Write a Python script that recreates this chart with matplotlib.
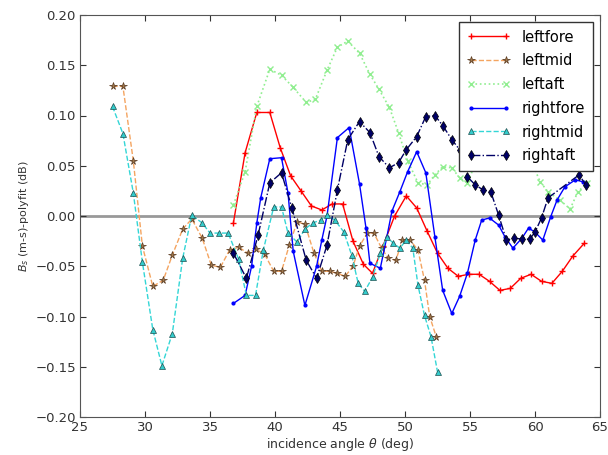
import matplotlib
matplotlib.use('Agg')
import matplotlib.pyplot as plt

# angle (deg) and residual (dB) for each transducer
leftfore_x = [36.8, 37.7, 38.6, 39.6, 40.4, 41.2, 42.0, 42.8, 43.6, 44.4, 45.2, 46.0, 46.8, 47.5,
              48.3, 49.2, 50.1, 50.9, 51.7, 52.5, 53.3, 54.1, 54.9, 55.7, 56.5, 57.3, 58.1, 58.9,
              59.7, 60.5, 61.3, 62.1, 62.9, 63.8]
leftfore_y = [-0.007, 0.063, 0.103, 0.103, 0.068, 0.040, 0.025, 0.010, 0.006, 0.012, 0.012, -0.025,
              -0.048, -0.057, -0.030, 0.000, 0.020, 0.008, -0.015, -0.037, -0.052, -0.060, -0.058,
              -0.058, -0.065, -0.074, -0.072, -0.062, -0.058, -0.065, -0.067, -0.055, -0.040, -0.027]

leftmid_x = [27.5, 28.3, 29.1, 29.8, 30.6, 31.4, 32.1, 32.9, 33.6, 34.4, 35.1, 35.8, 36.5, 37.2,
             37.9, 38.5, 39.2, 39.9, 40.5, 41.1, 41.7, 42.3, 43.0, 43.6, 44.2, 44.8, 45.4, 46.0,
             46.5, 47.1, 47.6, 48.2, 48.7, 49.3, 49.8, 50.4, 51.0, 51.5, 51.9, 52.4]
leftmid_y = [0.129, 0.129, 0.055, -0.030, -0.070, -0.064, -0.039, -0.013, -0.003, -0.022, -0.049,
             -0.051, -0.034, -0.031, -0.037, -0.033, -0.038, -0.055, -0.055, -0.029, -0.006, -0.008,
             -0.037, -0.055, -0.055, -0.057, -0.060, -0.050, -0.030, -0.017, -0.017, -0.032, -0.042,
             -0.044, -0.024, -0.024, -0.034, -0.064, -0.100, -0.120]

leftaft_x = [36.8, 37.7, 38.6, 39.6, 40.5, 41.4, 42.4, 43.1, 44.0, 44.8, 45.6, 46.5, 47.3, 48.0,
             48.8, 49.5, 50.2, 51.0, 51.7, 52.3, 52.9, 53.6, 54.2, 54.8, 55.6, 56.4, 57.2, 58.0,
             58.8, 59.6, 60.4, 61.0, 61.9, 62.7, 63.3, 64.0]
leftaft_y = [0.011, 0.044, 0.109, 0.146, 0.140, 0.128, 0.113, 0.116, 0.145, 0.168, 0.174, 0.162,
             0.141, 0.126, 0.108, 0.083, 0.055, 0.033, 0.031, 0.041, 0.049, 0.048, 0.038, 0.033,
             0.058, 0.066, 0.070, 0.066, 0.062, 0.058, 0.034, 0.024, 0.016, 0.007, 0.024, 0.033]

rightfore_x = [36.8, 37.7, 38.2, 38.6, 38.9, 39.6, 40.5, 41.0, 41.4, 42.3, 43.2, 43.6, 44.0, 44.8,
               45.7, 46.5, 47.0, 47.3, 48.1, 48.6, 49.0, 49.6, 50.2, 50.9, 51.6, 52.3, 52.9, 53.6,
               54.2, 54.8, 55.4, 55.9, 56.5, 57.2, 57.7, 58.3, 59.0, 59.5, 60.0, 60.6, 61.2, 61.7,
               62.3, 63.1, 63.7]
rightfore_y = [-0.087, -0.079, -0.050, -0.007, 0.018, 0.057, 0.058, 0.023, -0.035, -0.089, -0.050,
               -0.024, 0.000, 0.078, 0.088, 0.032, -0.012, -0.047, -0.052, -0.021, 0.005, 0.024,
               0.044, 0.064, 0.043, -0.021, -0.074, -0.097, -0.080, -0.057, -0.024, -0.004, -0.002,
               -0.009, -0.021, -0.032, -0.022, -0.012, -0.016, -0.024, -0.001, 0.016, 0.029, 0.036,
               0.034]

rightmid_x = [27.5, 28.3, 29.1, 29.8, 30.6, 31.3, 32.1, 32.9, 33.6, 34.4, 35.0, 35.7, 36.4, 37.2,
              37.8, 38.5, 39.1, 39.9, 40.5, 41.0, 41.7, 42.3, 42.9, 43.5, 44.0, 44.6, 45.3, 45.9,
              46.4, 46.9, 47.5, 48.1, 48.6, 49.1, 49.6, 50.1, 50.6, 51.0, 51.5, 52.0, 52.5]
rightmid_y = [0.109, 0.082, 0.023, -0.046, -0.113, -0.149, -0.117, -0.042, 0.001, -0.007, -0.017,
              -0.017, -0.017, -0.043, -0.079, -0.079, -0.034, 0.009, 0.009, -0.017, -0.026, -0.013,
              -0.007, -0.004, 0.001, -0.004, -0.016, -0.039, -0.067, -0.075, -0.061, -0.037, -0.021,
              -0.027, -0.032, -0.024, -0.032, -0.069, -0.099, -0.120, -0.155]

rightaft_x = [36.8, 37.8, 38.7, 39.6, 40.5, 41.3, 42.4, 43.2, 44.0, 44.8, 45.6, 46.5, 47.3, 48.0,
              48.8, 49.5, 50.1, 50.9, 51.6, 52.3, 52.9, 53.6, 54.2, 54.8, 55.4, 56.0, 56.6, 57.2,
              57.8, 58.4, 59.0, 59.6, 60.0, 60.5, 61.0, 63.4, 63.9]
rightaft_y = [-0.037, -0.062, -0.019, 0.033, 0.043, 0.008, -0.044, -0.062, -0.029, 0.026, 0.076,
              0.094, 0.083, 0.059, 0.048, 0.053, 0.066, 0.079, 0.099, 0.100, 0.090, 0.076, 0.066,
              0.039, 0.031, 0.026, 0.024, 0.001, -0.024, -0.022, -0.023, -0.023, -0.016, -0.002,
              0.018, 0.041, 0.031]

fig = plt.figure(figsize=(6.08, 4.55), dpi=100)
ax = fig.add_axes([80 / 608, 1 - 417 / 455, 520 / 608, 402 / 455])

ax.axhline(0, color='#999999', lw=2, zorder=1)

ax.plot(leftfore_x, leftfore_y, '-', color='red', marker='+', ms=4, lw=1, label='leftfore')
ax.plot(leftmid_x, leftmid_y, '--', color='sandybrown', marker='*', ms=5.5, mfc='#a0784a',
        mec='#5a3a20', mew=0.5, lw=1, label='leftmid')
ax.plot(leftaft_x, leftaft_y, ':', color='lightgreen', marker='x', ms=4, lw=1.2, label='leftaft')
ax.plot(rightfore_x, rightfore_y, '-', color='blue', marker='.', ms=4, lw=1, label='rightfore')
ax.plot(rightmid_x, rightmid_y, '--', color='#33d6d6', marker='^', ms=5, mfc='#33cccc',
        mec='#205050', mew=0.5, lw=1, label='rightmid')
ax.plot(rightaft_x, rightaft_y, '-.', color='#000066', marker='d', ms=5.5, mfc='#000066',
        mec='black', mew=0.5, lw=1, label='rightaft')

ax.set_xlim(25, 65)
ax.set_ylim(-0.2, 0.2)
ax.set_xticks(range(25, 66, 5))
ax.set_yticks([-0.2, -0.15, -0.1, -0.05, 0.0, 0.05, 0.1, 0.15, 0.2])
ax.set_yticklabels(['\u22120.20', '\u22120.15', '\u22120.10', '\u22120.05', '0.00',
                    '0.05', '0.10', '0.15', '0.20'])
ax.tick_params(direction='in', top=True, right=True, labelsize=9.5, colors='#333333',
               length=4, pad=3)
for s in ax.spines.values():
    s.set_color('#555555')

ax.set_xlabel(r'incidence angle $\theta$ (deg)', fontsize=9, color='#333333', labelpad=1)
ax.set_ylabel(r'$B_s$ (m-s)-polyfit (dB)', fontsize=8, color='#333333', labelpad=3)

leg = ax.legend(loc='upper right', fontsize=10.5, fancybox=False, framealpha=1,
                edgecolor='#333333', handlelength=3, borderpad=0.5, labelspacing=0.6,
                numpoints=2)
leg.get_frame().set_linewidth(1)

fig.savefig('out.png', dpi=100, facecolor='white')
